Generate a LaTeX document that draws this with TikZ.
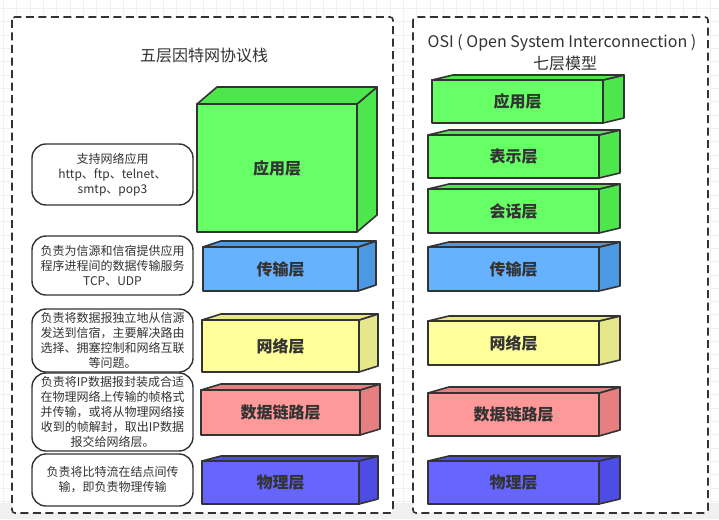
\documentclass[tikz,border=0pt]{standalone}
\usepackage{fontspec}
\setmainfont{Noto Sans CJK SC}
\definecolor{strk}{HTML}{333333}
\definecolor{txt}{HTML}{333333}
\definecolor{gridc}{HTML}{F1F1F1}
\definecolor{bandc}{HTML}{F0F0F0}
\definecolor{greenfront}{HTML}{66FF66}
\definecolor{greenside}{HTML}{4DE64D}
\definecolor{bluefront}{HTML}{66B2FF}
\definecolor{blueside}{HTML}{4C99E3}
\definecolor{yellowfront}{HTML}{FFFF99}
\definecolor{yellowside}{HTML}{E6E68A}
\definecolor{redfront}{HTML}{FF9999}
\definecolor{redside}{HTML}{E68080}
\definecolor{purplefront}{HTML}{6666FF}
\definecolor{purpleside}{HTML}{4D4DE6}
\tikzset{
  container/.style={draw=strk, line width=1.6pt, dash pattern=on 8pt off 4.5pt, fill=white, rounded corners=3pt},
  facestyle/.style={draw=strk, line width=1.6pt, line join=round},
  layer/.style={font=\fontsize{16}{19}\selectfont\bfseries, text=txt, inner sep=0pt},
  callout/.style={draw=strk, line width=1.4pt, rounded corners=14pt, fill=white},
  callouttext/.style={font=\fontsize{12}{15}\selectfont, text=txt, align=center, inner sep=0pt},
  titletext/.style={font=\fontsize{16}{20}\selectfont, text=txt, align=center, inner sep=0pt}
}
% name, x1, y1, x2, y2, dx, dy, colour prefix, label
\newcommand{\mycube}[9]{%
  \filldraw[facestyle, fill=#8side] (#4,#3) -- ({#4+#6},{#3-#7}) -- ({#4+#6},{#5-#7}) -- (#4,#5) -- cycle;
  \filldraw[facestyle, fill=#8side] (#2,#3) -- ({#2+#6},{#3-#7}) -- ({#4+#6},{#3-#7}) -- (#4,#3) -- cycle;
  \filldraw[facestyle, fill=#8front] (#2,#3) rectangle (#4,#5);
  \node[layer] (#1) at ({(#2+#4)/2},{(#3+#5)/2}) {#9};
}
% name, x1, y1, x2, y2, text
\newcommand{\mycallout}[6]{%
  \draw[callout] (#2,#3) rectangle (#4,#5);
  \node[callouttext] (#1) at ({(#2+#4)/2},{(#3+#5)/2}) {#6};
}
\begin{document}
\begin{tikzpicture}[x=1pt, y=-1pt]
\useasboundingbox (0,0) rectangle (719,519);
\fill[white] (0,0) rectangle (719,519);
% faint canvas grid
\foreach \i in {0,...,54} {
  \draw[gridc, line width=0.8pt] ({3.4+13.33*\i},0) -- ({3.4+13.33*\i},503);
}
\foreach \j in {0,...,37} {
  \draw[gridc, line width=0.8pt] (0,{8.3+13.33*\j}) -- (719,{8.3+13.33*\j});
}
\fill[bandc] (0,503) rectangle (719,519);

% containers
\draw[container] (12,17) rectangle (393,513);
\draw[container] (413,17) rectangle (708,513);

% titles
\node[titletext] (lefttitle) at (204,55) {五层因特网协议栈};
\node[titletext] (righttitle) at (562,43) {OSI ( Open System Interconnection )};
\node[titletext] (righttitle2) at (565,63) {七层模型};

% left stack
\mycube{lapp}{197}{104}{357}{232}{20}{17}{green}{应用层}
\mycube{ltrans}{203}{247}{358}{291}{18}{6}{blue}{传输层}
\mycube{lnet}{202}{320}{359}{372}{19}{6}{yellow}{网络层}
\mycube{llink}{201}{390}{360}{435}{20}{6}{red}{数据链路层}
\mycube{lphys}{202}{461}{359}{504}{19}{5}{purple}{物理层}

% callouts
\mycallout{capp}{32}{144}{193}{205}{支持网络应用\\http、ftp、telnet、\\smtp、pop3}
\mycallout{ctrans}{32}{236}{193}{295}{负责为信源和信宿提供应用\\程序进程间的数据传输服务\\TCP、UDP}
\mycallout{cnet}{32}{309}{193}{372}{负责将数据报独立地从信源\\发送到信宿，主要解决路由\\选择、拥塞控制和网络互联\\等问题。}
\mycallout{clink}{32}{373}{193}{451}{负责将IP数据报封装成合适\\在物理网络上传输的帧格式\\并传输，或将从物理网络接\\收到的帧解封，取出IP数据\\报交给网络层。}
\mycallout{cphys}{32}{454}{193}{506}{负责将比特流在结点间传\\输，即负责物理传输}

% right stack (OSI)
\mycube{rapp}{432}{80}{603}{123}{21}{5}{green}{应用层}
\mycube{rpres}{428}{135}{599}{178}{21}{5}{green}{表示层}
\mycube{rsess}{428}{189}{599}{233}{21}{5}{green}{会话层}
\mycube{rtrans}{428}{247}{599}{291}{21}{5}{blue}{传输层}
\mycube{rnet}{428}{321}{599}{365}{21}{5}{yellow}{网络层}
\mycube{rlink}{428}{393}{599}{436}{21}{6}{red}{数据链路层}
\mycube{rphys}{428}{461}{599}{504}{21}{5}{purple}{物理层}
\end{tikzpicture}
\end{document}
